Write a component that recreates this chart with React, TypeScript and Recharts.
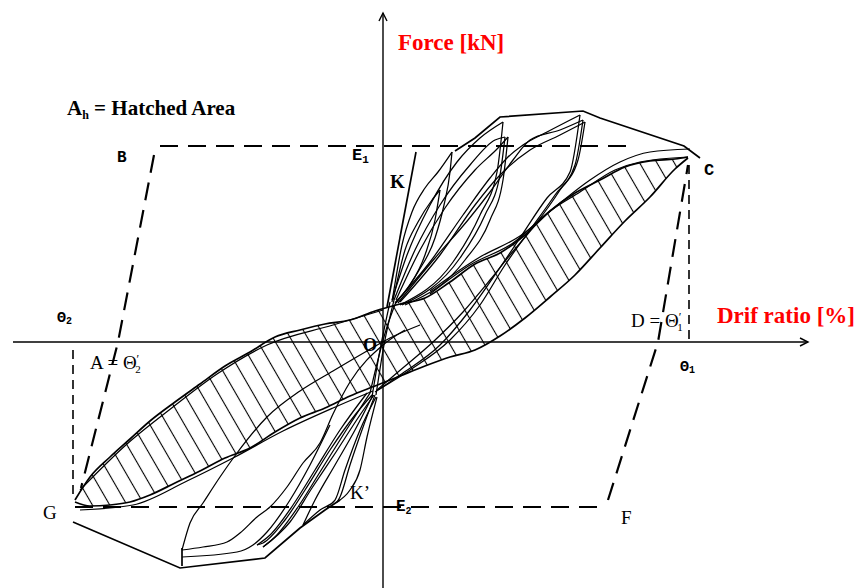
import React from 'react';
import { ComposedChart, Line, Area, XAxis, YAxis, ReferenceLine } from 'recharts';

// Units: drift (x, 0.01 %) and force (y, arbitrary kN units); origin O = (0, 0)
const hatchDrift = [-308, -293, -273, -253, -233, -208, -183, -158, -133, -108, -83, -58, -33, -8, 17, 42, 67, 92, 117, 142, 167, 192, 217, 242, 267, 292, 305];
const hatchUpper = [-158, -135, -115, -97, -79, -60, -42, -24, -10, 5, 12, 18, 22, 31, 38, 44, 60, 78, 89, 107, 131, 149, 162, 175, 181, 183, 185];
const hatchLower = [-160, -164, -163, -160, -153, -141, -129, -116, -106, -90, -76, -66, -54, -44, -34, -24, -15, -8, 6, 24, 45, 67, 94, 121, 145, 173, 184];

const upperStrand2 = [[47, 48], [87, 77], [130, 99], [167, 131], [197, 150], [232, 172], [257, 180], [305, 185]];
const upperStrand3 = [[47, 51], [97, 85], [137, 106], [177, 139], [207, 162], [237, 180], [267, 190], [307, 193]];
const upperStrandLeft = [[-303, -148], [-256, -102], [-210, -65], [-166, -32], [-116, -3], [-50, 17], [0, 32]];
const lowerStrand2 = [[-303, -168], [-250, -163], [-196, -139], [-150, -116], [-100, -89], [-50, -66], [-10, -49]];
const lowerLeafStrand = [[-201, -215], [-146, -210], [-130, -203], [-116, -190], [-93, -158], [-73, -123], [-53, -83]];

const envelopeTop = [[72, 191], [92, 204], [117, 225], [200, 231], [217, 224], [301, 196], [317, 184]];
const envelopeBottom = [[-310, -180], [-203, -226], [-118, -216], [-83, -186], [-58, -168], [-43, -158]];
const lowerTip = [[-201, -206], [-201, -224]];
const stiffnessK = [[4, 35], [33, 190]];

// upper (positive) loops, listed base -> tip -> base
const leafA = [[9, 40], [19, 97], [29, 130], [42, 154], [55, 170], [69, 190], [67, 170], [61, 137], [52, 104], [35, 70], [13, 39]];
const leafA2 = [[10, 42], [22, 92], [35, 120], [49, 142], [57, 152], [52, 122], [42, 87], [27, 57], [13, 40]];
const leafB1 = [[9, 42], [24, 87], [47, 137], [74, 180], [97, 204], [120, 220], [114, 170], [97, 127], [70, 80], [17, 37]];
const leafB2 = [[11, 42], [32, 92], [57, 137], [87, 177], [112, 202], [122, 205], [117, 167], [102, 127], [77, 84], [19, 37]];
const leafB3 = [[13, 42], [37, 92], [62, 134], [92, 172], [115, 194], [125, 205], [120, 162], [107, 122], [82, 82], [22, 37]];
const leafC1 = [[12, 39], [47, 80], [80, 127], [107, 164], [124, 184], [140, 197], [164, 210], [197, 227], [187, 170], [164, 144], [137, 104], [114, 70], [87, 32], [57, -3], [17, -33], [-8, -50]];
const leafC2 = [[15, 39], [52, 84], [85, 122], [107, 150], [130, 182], [147, 202], [177, 212], [200, 222], [192, 177], [172, 147], [147, 112], [122, 77], [97, 37], [67, 2], [27, -28], [-5, -48]];
const leafC3 = [[17, 40], [57, 87], [92, 137], [117, 167], [147, 192], [177, 207], [202, 220], [195, 182], [177, 152], [152, 117], [127, 87], [107, 62], [80, 30], [50, 0], [15, -30], [-6, -48]];

// lower (negative) loops, listed base -> tip -> base
const leafL1 = [[37, 17], [7, 4], [-16, -9], [-50, -29], [-83, -49], [-116, -75], [-146, -111], [-163, -135], [-180, -161], [-193, -181], [-201, -208], [-180, -205], [-156, -200], [-143, -191], [-126, -175], [-113, -165], [-96, -145], [-80, -121], [-63, -101], [-50, -72], [-33, -40], [0, -3], [22, 12]];
const leafL2 = [[-16, -51], [-43, -88], [-68, -128], [-90, -163], [-113, -193], [-126, -203], [-120, -201], [-98, -178], [-78, -148], [-53, -108], [-28, -73], [-11, -53]];
const leafL2b = [[-13, -51], [-38, -90], [-63, -130], [-85, -165], [-108, -195], [-120, -205], [-93, -180], [-71, -146], [-47, -110], [-23, -73], [-9, -53]];
const leafL3 = [[-10, -53], [-28, -88], [-48, -123], [-68, -158], [-80, -183], [-63, -168], [-48, -158], [-38, -128], [-23, -88], [-7, -55]];
const leafL4 = [[-8, -53], [-21, -88], [-33, -123], [-43, -155], [-46, -160], [-33, -148], [-23, -128], [-16, -95], [-6, -55]];
const bundle1 = [[-11, -55], [-3, -8], [7, 40]];
const bundle2 = [[-7, -53], [1, -3], [11, 42]];
const bundle3 = [[-13, -51], [3, 12], [13, 40]];

const dashTop = [[-223, 196], [247, 196]];
const dashLeftSlant = [[-229, 187], [-265, 0], [-302, -146]];
const dashLeftVert = [[-310, -8], [-310, -158]];
const dashBottom = [[-308, -165], [223, -165]];
const dashRightSlant = [[225, -158], [275, 0], [305, 177]];
const dashRightVert = [[306, 177], [306, 2]];

const xDomain = [-383, 479];
const yDomain = [-246, 342];
const xAxisEnds = [-370, 425];
const yAxisEnds = [-246, 329];

const pts = (a: number[][]) => a.map(([x, y]) => ({ x, y }));
const byX = (a: number[][]) => a.slice().sort((p, q) => p[0] - q[0]);
// split a loop at its tip into two x-ordered edges so each can be drawn smooth
const edges = (leaf: number[][]) => {
  let tip = 0;
  leaf.forEach((p, i) => { if (Math.abs(p[1]) > Math.abs(leaf[tip][1])) tip = i; });
  return [byX(leaf.slice(0, tip + 1)), byX(leaf.slice(tip))];
};
const hatchData = hatchDrift.map((x, i) => ({ x, range: [hatchLower[i], hatchUpper[i]], up: hatchUpper[i], lo: hatchLower[i] }));

const leaves = [leafA, leafA2, leafB1, leafB2, leafB3, leafC1, leafC2, leafC3, leafL1, leafL2, leafL2b, leafL3, leafL4];
const strands = [upperStrand2, upperStrand3, upperStrandLeft, lowerStrand2, lowerLeafStrand, bundle1, bundle2, bundle3];
const smoothCurves = [...strands, ...leaves.flatMap(edges)];
const heavy = [envelopeTop, envelopeBottom, stiffnessK, lowerTip];
const bigDashes = [dashTop, dashLeftSlant, dashBottom, dashRightSlant];
const smallDashes = [dashLeftVert, dashRightVert];

const ArrowX = (p: any) => (
  <g>
    <line x1={p.x1} y1={p.y1} x2={p.x2} y2={p.y2} stroke="#000" strokeWidth={1.4} />
    <path d={`M${p.x2 - 8},${p.y2 - 4}L${p.x2},${p.y2}L${p.x2 - 8},${p.y2 + 4}`} fill="none" stroke="#000" strokeWidth={1.4} />
  </g>
);
const ArrowY = (p: any) => {
  const tx = p.y1 < p.y2 ? p.x1 : p.x2;
  const ty = Math.min(p.y1, p.y2);
  return (
    <g>
      <line x1={p.x1} y1={p.y1} x2={p.x2} y2={p.y2} stroke="#000" strokeWidth={1.4} />
      <path d={`M${tx - 4},${ty + 8}L${tx},${ty}L${tx + 4},${ty + 8}`} fill="none" stroke="#000" strokeWidth={1.4} />
    </g>
  );
};

const serif = '"Liberation Serif", "Times New Roman", serif';
const mono = '"Liberation Mono", "DejaVu Sans Mono", monospace';

export default function App() {
  return (
    <div style={{ position: 'absolute', left: 0, top: 0, width: 862, height: 588, background: '#fff' }}>
      <ComposedChart width={862} height={588} margin={{ top: 0, right: 0, bottom: 0, left: 0 }}>
        <defs>
          <pattern id="hatch" patternUnits="userSpaceOnUse" width="15" height="15" patternTransform="rotate(-30)">
            <line x1="7.5" y1="0" x2="7.5" y2="15" stroke="#000" strokeWidth="1.1" />
          </pattern>
        </defs>
        <XAxis type="number" dataKey="x" domain={xDomain} hide allowDataOverflow />
        <YAxis type="number" domain={yDomain} hide allowDataOverflow />
        <Area data={hatchData} dataKey="range" type="monotone" fill="url(#hatch)" fillOpacity={1} stroke="none" dot={false} activeDot={false} isAnimationActive={false} />
        <ReferenceLine segment={[{ x: xAxisEnds[0], y: 0 }, { x: xAxisEnds[1], y: 0 }]} shape={ArrowX} />
        <ReferenceLine segment={[{ x: 0, y: yAxisEnds[0] }, { x: 0, y: yAxisEnds[1] }]} shape={ArrowY} />
        <Line data={hatchData} dataKey="up" type="monotone" stroke="#000" strokeWidth={1.7} dot={false} activeDot={false} isAnimationActive={false} />
        <Line data={hatchData} dataKey="lo" type="monotone" stroke="#000" strokeWidth={1.7} dot={false} activeDot={false} isAnimationActive={false} />
        {smoothCurves.map((c, i) => (
          <Line key={'c' + i} data={pts(c)} dataKey="y" type="monotone" stroke="#000" strokeWidth={1.25} dot={false} activeDot={false} isAnimationActive={false} />
        ))}
        {heavy.map((c, i) => (
          <Line key={'h' + i} data={pts(c)} dataKey="y" type="linear" stroke="#000" strokeWidth={1.7} dot={false} activeDot={false} isAnimationActive={false} />
        ))}
        {bigDashes.map((c, i) => (
          <Line key={'d' + i} data={pts(c)} dataKey="y" type="linear" stroke="#000" strokeWidth={2.2} strokeDasharray="18 10" dot={false} activeDot={false} isAnimationActive={false} />
        ))}
        {smallDashes.map((c, i) => (
          <Line key={'s' + i} data={pts(c)} dataKey="y" type="linear" stroke="#000" strokeWidth={1.6} strokeDasharray="9 6" dot={false} activeDot={false} isAnimationActive={false} />
        ))}
      </ComposedChart>
      <svg width={862} height={588} style={{ position: 'absolute', left: 0, top: 0, pointerEvents: 'none' }}>
        <text x={398} y={50} fill="#ff0000" fontFamily={serif} fontWeight="bold" fontSize={23}>Force [kN]</text>
        <text x={717} y={323} fill="#ff0000" fontFamily={serif} fontWeight="bold" fontSize={23}>Drif ratio [%]</text>
        <text x={67} y={115} fill="#000" fontFamily={serif} fontWeight="bold" fontSize={21}>
          A<tspan fontSize={12} dy={4}>h</tspan><tspan dy={-4}> = Hatched Area</tspan>
        </text>
        <text x={117} y={162} fontFamily={mono} fontWeight="bold" fontSize={16}>B</text>
        <text x={352} y={160} fontFamily={mono} fontWeight="bold" fontSize={17}>E<tspan fontSize={11} dy={3}>1</tspan></text>
        <text x={390} y={188} fontFamily={serif} fontWeight="bold" fontSize={19}>K</text>
        <text x={704} y={175} fontFamily={mono} fontWeight="bold" fontSize={17}>C</text>
        <text x={57} y={322} fontFamily={mono} fontWeight="bold" fontSize={15}>Θ<tspan fontSize={10} dy={2}>2</tspan></text>
        <text x={90} y={369} fontFamily={serif} fontSize={19}>A = Θ<tspan fontSize={12} dy={-6}>′</tspan><tspan fontSize={11} dx={-4} dy={10}>2</tspan></text>
        <text x={363} y={351} fontFamily={serif} fontWeight="bold" fontSize={18}>O</text>
        <text x={631} y={327} fontFamily={serif} fontSize={19}>D = Θ<tspan fontSize={12} dy={-6}>′</tspan><tspan fontSize={11} dx={-4} dy={10}>1</tspan></text>
        <text x={680} y={371} fontFamily={mono} fontWeight="bold" fontSize={15}>Θ<tspan fontSize={10} dy={2}>1</tspan></text>
        <text x={43} y={519} fontFamily={serif} fontSize={19}>G</text>
        <text x={350} y={499} fontFamily={serif} fontSize={19}>K’</text>
        <text x={396} y={511} fontFamily={mono} fontWeight="bold" fontSize={16}>E<tspan fontSize={10} dy={3}>2</tspan></text>
        <text x={621} y={524} fontFamily={serif} fontSize={19}>F</text>
      </svg>
    </div>
  );
}
